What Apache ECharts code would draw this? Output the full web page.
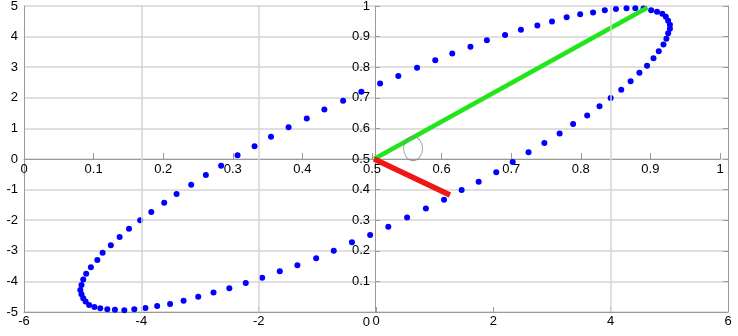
<!DOCTYPE html>
<html>
<head>
<meta charset="utf-8">
<script src="https://cdn.jsdelivr.net/npm/echarts@6/dist/echarts.min.js"></script>
<style>
  html, body { margin: 0; padding: 0; background: #fff; }
  #chart { width: 738px; height: 336px; }
</style>
</head>
<body>
<div id="chart"></div>
<script>
// blue dots, outer axes (x -6..6, y -5..5)
var ellipseX = [5.01, 5.01, 4.98, 4.94, 4.88, 4.79, 4.69, 4.56, 4.42, 4.27, 4.09, 3.90, 3.70, 3.48, 3.25, 3.00,
  2.75, 2.47, 2.20, 1.89, 1.61, 1.30, 1.01, 0.70, 0.38, 0.07, -0.25, -0.56, -0.88, -1.18, -1.49, -1.79,
  -2.07, -2.36, -2.64, -2.90, -3.15, -3.40, -3.61, -3.83, -4.02, -4.21, -4.37, -4.52, -4.66, -4.75, -4.86,
  -4.94, -4.99, -5.02, -5.04, -5.02, -4.99, -4.95, -4.89, -4.80, -4.70, -4.58, -4.45, -4.29, -4.12, -3.93,
  -3.73, -3.51, -3.28, -3.03, -2.77, -2.50, -2.22, -1.94, -1.64, -1.34, -1.02, -0.72, -0.41, -0.10, 0.21,
  0.53, 0.85, 1.16, 1.46, 1.75, 2.05, 2.33, 2.60, 2.87, 3.13, 3.36, 3.60, 3.81, 4.00, 4.18, 4.34, 4.49,
  4.62, 4.73, 4.82, 4.90, 4.95, 4.98];
var ellipseY = [4.26, 4.39, 4.52, 4.65, 4.75, 4.81, 4.86, 4.92, 4.93, 4.93, 4.90, 4.86, 4.79, 4.73, 4.63, 4.49,
  4.36, 4.22, 4.05, 3.88, 3.67, 3.45, 3.23, 2.98, 2.71, 2.47, 2.20, 1.90, 1.62, 1.32, 1.04, 0.73,
  0.42, 0.12, -0.22, -0.52, -0.84, -1.14, -1.43, -1.73, -2.00, -2.28, -2.55, -2.82, -3.06, -3.30, -3.54,
  -3.75, -3.94, -4.12, -4.28, -4.42, -4.55, -4.66, -4.77, -4.84, -4.88, -4.91, -4.93, -4.94, -4.91, -4.87,
  -4.80, -4.74, -4.63, -4.50, -4.36, -4.22, -4.05, -3.88, -3.67, -3.47, -3.24, -3.00, -2.72, -2.48, -2.21,
  -1.91, -1.62, -1.33, -1.01, -0.74, -0.43, -0.10, 0.22, 0.52, 0.83, 1.14, 1.42, 1.72, 1.99, 2.26, 2.54, 2.82,
  3.05, 3.29, 3.52, 3.74, 3.93, 4.11];

// vertical grid lines of the outer axes
var gridX = [-4, -2, 4];

// lines and marker, inner axes (0..1)
var greenX = [0.503, 0.896];
var greenY = [0.500, 0.995];
var redX = [0.503, 0.612];
var redY = [0.500, 0.382];
var arcCenter = [0.559, 0.534];

var font = 'Liberation Sans, Arial, sans-serif';
var axisGray = '#9a9a9a';
var gridGray = '#d4d4d4';
var textColor = '#000';
var fs = 13;

function pairs(xs, ys) {
  return xs.map(function (x, i) { return [x, ys[i]]; });
}

var chart = echarts.init(document.getElementById('chart'));
chart.setOption({
  animation: false,
  backgroundColor: '#fff',
  textStyle: { fontFamily: font },
  grid: [
    { left: 24, top: 6, width: 704, height: 306, outerBoundsMode: 'none' },
    { left: 24, top: 6, width: 696, height: 306, outerBoundsMode: 'none' }
  ],
  xAxis: [
    {
      gridIndex: 0, type: 'value', min: -6, max: 6, interval: 2, position: 'bottom',
      axisLine: { onZero: false, lineStyle: { color: axisGray } },
      axisTick: { inside: true, length: 5, lineStyle: { color: axisGray } },
      axisLabel: { color: textColor, fontSize: fs, margin: 3, fontFamily: font },
      splitLine: { show: false }
    },
    {
      gridIndex: 1, type: 'value', min: 0, max: 1, interval: 0.1, position: 'bottom', offset: -153,
      axisLine: { onZero: false, lineStyle: { color: axisGray } },
      axisTick: { inside: true, length: 6, lineStyle: { color: axisGray } },
      axisLabel: { color: textColor, fontSize: fs, margin: 4, fontFamily: font },
      splitLine: { show: false }
    }
  ],
  yAxis: [
    {
      gridIndex: 0, type: 'value', min: -5, max: 5, interval: 1, position: 'left',
      axisLine: { show: true, onZero: false, lineStyle: { color: axisGray } },
      axisTick: { show: false },
      axisLabel: { color: textColor, fontSize: fs, margin: 6, fontFamily: font },
      splitLine: { show: true, lineStyle: { color: gridGray, width: 1.5 } }
    },
    {
      gridIndex: 1, type: 'value', min: 0, max: 1, interval: 0.1, position: 'left', offset: -351,
      axisLine: { show: true, onZero: false, lineStyle: { color: axisGray } },
      axisTick: { show: true, inside: true, length: 5, lineStyle: { color: axisGray } },
      axisLabel: {
        color: textColor, fontSize: fs, margin: 5, fontFamily: font,
        formatter: function (v) { return v === 0 ? '{d|0}' : String(v); },
        rich: { d: { fontSize: fs, fontFamily: font, color: textColor, padding: [20, 0, 0, 0] } }
      },
      splitLine: { show: false }
    },
    {
      gridIndex: 0, type: 'value', min: -5, max: 5, interval: 1, position: 'right',
      axisLine: { show: true, onZero: false, lineStyle: { color: axisGray } },
      axisTick: { show: true, inside: true, length: 5, lineStyle: { color: axisGray } },
      axisLabel: { show: false },
      splitLine: { show: false }
    }
  ],
  series: [
    {
      type: 'scatter', xAxisIndex: 0, yAxisIndex: 0, data: [], z: 1, silent: true,
      markLine: {
        silent: true, symbol: 'none', label: { show: false },
        lineStyle: { color: gridGray, width: 1.5, type: 'solid' },
        data: gridX.map(function (x) { return { xAxis: x }; })
      }
    },
    {
      type: 'scatter', xAxisIndex: 0, yAxisIndex: 0, z: 3,
      symbol: 'circle', symbolSize: 6,
      itemStyle: { color: '#0000ff', opacity: 1 },
      data: pairs(ellipseX, ellipseY)
    },
    {
      type: 'line', xAxisIndex: 1, yAxisIndex: 1, z: 4,
      symbol: 'none', lineStyle: { color: '#22e51a', width: 4.5, cap: 'butt' },
      data: pairs(greenX, greenY)
    },
    {
      type: 'line', xAxisIndex: 1, yAxisIndex: 1, z: 4,
      symbol: 'none', lineStyle: { color: '#ef1616', width: 5.5, cap: 'butt' },
      data: pairs(redX, redY)
    },
    {
      type: 'scatter', xAxisIndex: 1, yAxisIndex: 1, z: 5,
      symbol: 'circle', symbolSize: [19, 24],
      itemStyle: { color: 'rgba(0,0,0,0)', borderColor: '#8a8a8a', borderWidth: 1 },
      data: [arcCenter]
    }
  ]
});
</script>
</body>
</html>
